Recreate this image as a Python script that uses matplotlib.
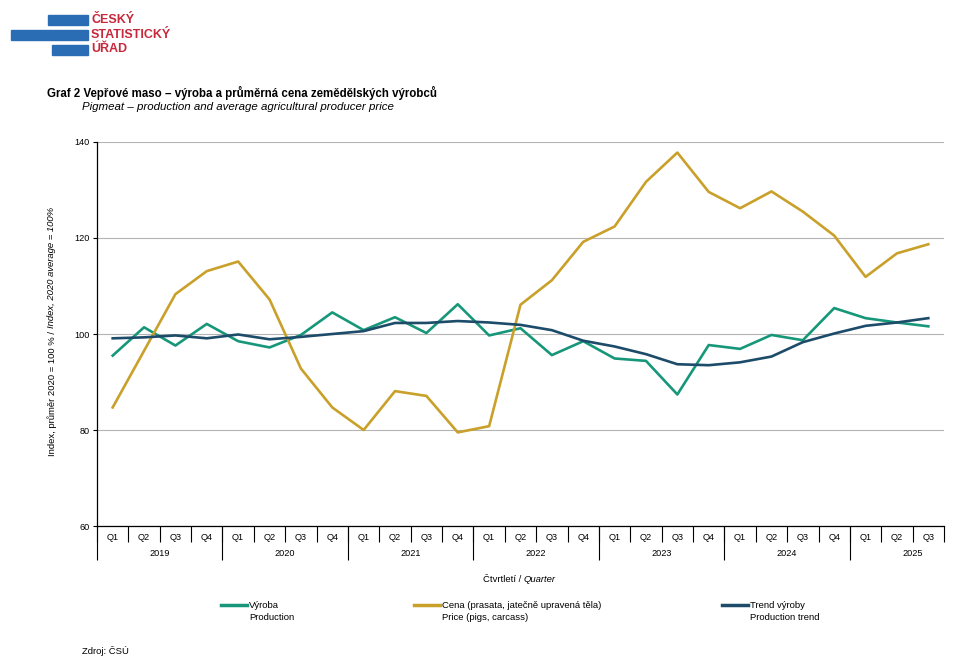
import numpy as np
import matplotlib.pyplot as plt
from matplotlib.lines import Line2D
from matplotlib.patches import Rectangle

plt.rcParams['font.family'] = ['Liberation Sans', 'DejaVu Sans']

years = ['2019', '2020', '2021', '2022', '2023', '2024', '2025']
quarters = ['Q1', 'Q2', 'Q3', 'Q4'] * 6 + ['Q1', 'Q2', 'Q3']

vyroba = [95.5, 101.4, 97.6, 102.1, 98.5, 97.2, 99.8, 104.5, 100.8, 103.5, 100.2, 106.2,
          99.7, 101.2, 95.6, 98.5, 94.9, 94.4, 87.4, 97.7, 96.9, 99.8, 98.7, 105.4,
          103.3, 102.4, 101.6]
cena = [84.7, 96.5, 108.3, 113.1, 115.1, 107.2, 92.8, 84.7, 80.0, 88.1, 87.1, 79.5,
        80.8, 106.1, 111.2, 119.2, 122.4, 131.7, 137.8, 129.6, 126.2, 129.7, 125.5, 120.5,
        111.9, 116.8, 118.7]
trend = [99.1, 99.3, 99.7, 99.1, 99.9, 98.9, 99.4, 100.0, 100.6, 102.3, 102.3, 102.7,
         102.4, 101.9, 100.8, 98.6, 97.4, 95.8, 93.7, 93.5, 94.1, 95.3, 98.3, 100.1,
         101.7, 102.4, 103.3]

c_green = '#17977a'
c_gold = '#c9a02a'
c_navy = '#1d4b6a'

W, H = 958, 671
fig = plt.figure(figsize=(W / 100, H / 100), dpi=100)
ax = fig.add_axes([97 / W, 1 - 526 / H, (944 - 97) / W, (526 - 142) / H])

x = np.arange(len(quarters))
ax.plot(x, vyroba, color=c_green, lw=1.9, zorder=3)
ax.plot(x, cena, color=c_gold, lw=1.9, zorder=3)
ax.plot(x, trend, color=c_navy, lw=1.9, zorder=4)

ax.set_xlim(-0.5, len(quarters) - 0.5)
ax.set_ylim(60, 140)
ax.set_yticks([60, 80, 100, 120, 140])
ax.tick_params(axis='y', labelsize=6.6, length=3, width=0.8, pad=2)
ax.set_xticks([])
ax.grid(axis='y', color='#b4b4b4', lw=0.8)
ax.set_axisbelow(True)
for s in ['top', 'right']:
    ax.spines[s].set_visible(False)
ax.spines['left'].set_linewidth(0.9)
ax.spines['bottom'].set_linewidth(0.9)

# two-level category axis
tr = ax.get_xaxis_transform()
hpx = 526 - 142
for i, q in enumerate(quarters):
    ax.text(i, -11 / hpx, q, transform=tr, ha='center', va='center', fontsize=6.6)
seps = np.arange(len(quarters) + 1) - 0.5
ax.vlines(seps, -16 / hpx, 0, transform=tr, color='black', lw=0.8, clip_on=False)
ystarts = np.arange(0, len(quarters), 4)
ax.vlines(ystarts - 0.5, -34 / hpx, 0, transform=tr, color='black', lw=0.8, clip_on=False)
for k, yr in enumerate(years):
    ax.text(ystarts[k] + 1.5, -27 / hpx, yr, transform=tr, ha='center', va='center',
            fontsize=6.6)

# axis titles
fig.canvas.draw()
rend = fig.canvas.get_renderer()
ylab1 = 'Index, průměr 2020 = 100 % / '
ylab2 = 'Index, 2020 average = 100%'
y0 = 1 - 456 / H
t1 = fig.text(52 / W, y0, ylab1, rotation=90, ha='center', va='bottom', fontsize=6.8)
h1 = t1.get_window_extent(rend).height / H
fig.text(52 / W, y0 + h1, ylab2, rotation=90, ha='center', va='bottom', fontsize=6.8,
         style='italic')

t2 = fig.text(483 / W, 1 - 580 / H, 'Čtvrtletí / ', ha='left', va='center', fontsize=6.8)
w2 = t2.get_window_extent(rend).width / W
fig.text(483 / W + w2, 1 - 580 / H, 'Quarter', ha='left', va='center', fontsize=6.8,
         style='italic')

# titles
fig.text(47 / W, 1 - 93 / H, 'Graf 2 Vepřové maso – výroba a průměrná cena zemědělských výrobců',
         fontsize=8.3, fontweight='bold', ha='left', va='center')
fig.text(82 / W, 1 - 107 / H, 'Pigmeat – production and average agricultural producer price',
         fontsize=8.25, style='italic', ha='left', va='center')

# legend
leg = [(221, c_green, 'Výroba', 'Production'),
       (414, c_gold, 'Cena (prasata, jatečně upravená těla)', 'Price (pigs, carcass)'),
       (722, c_navy, 'Trend výroby', 'Production trend')]
for lx, col, l1, l2 in leg:
    fig.add_artist(Line2D([lx / W, (lx + 26) / W], [1 - 605 / H] * 2, color=col, lw=2.5))
    fig.text((lx + 28) / W, 1 - 605 / H, l1, fontsize=6.8, ha='left', va='center')
    fig.text((lx + 28) / W, 1 - 617 / H, l2, fontsize=6.8, ha='left', va='center')

fig.text(82 / W, 1 - 651 / H, 'Zdroj: ČSÚ', fontsize=6.8, ha='left', va='center')

# logo
blue = '#2a6db5'
for bx, by in [(48, 15), (11, 30), (52, 45)]:
    fig.add_artist(Rectangle((bx / W, 1 - (by + 10) / H), (88 - bx) / W, 10 / H,
                             color=blue, transform=fig.transFigure))
for ty, txt in [(20, 'ČESKÝ'), (35, 'STATISTICKÝ'), (49, 'ÚŘAD')]:
    fig.text(91 / W, 1 - ty / H, txt, color='#c8283c', fontsize=9, fontweight='bold',
             ha='left', va='center', stretch='condensed')

fig.savefig('out.png', dpi=100)
